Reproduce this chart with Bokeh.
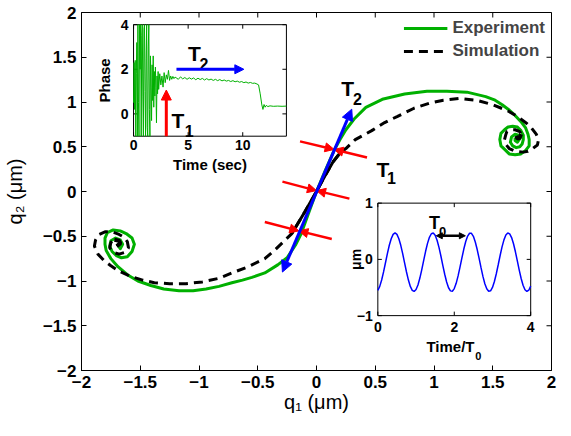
import numpy as np
from bokeh.plotting import figure
from bokeh.models import Range1d, FixedTicker, Arrow, NormalHead, Legend, LegendItem
from bokeh.core.properties import value
from bokeh.embed import file_html
from bokeh.resources import INLINE

# ---------------- data ----------------
# Experiment trajectory (green), lower-left spiral centre -> upper-right spiral centre
exp_q1 = [-1.69, -1.67, -1.65, -1.67, -1.71, -1.75, -1.76, -1.74, -1.70, -1.66, -1.61, -1.57, -1.55,
          -1.57, -1.62, -1.67, -1.73, -1.78, -1.80, -1.80, -1.79, -1.75, -1.69, -1.61, -1.52, -1.41,
          -1.30, -1.17, -1.05, -0.94, -0.83, -0.72, -0.63, -0.55, -0.44, -0.33, -0.25, -0.18, -0.13,
          -0.07, 0.00, 0.07, 0.15, 0.20, 0.25, 0.32, 0.42, 0.56, 0.75, 0.94, 1.11, 1.28, 1.44, 1.52,
          1.58, 1.64, 1.69, 1.74, 1.78, 1.80, 1.81, 1.81, 1.78, 1.74, 1.69, 1.64, 1.61, 1.57, 1.56,
          1.57, 1.60, 1.63, 1.67, 1.71, 1.74, 1.76, 1.76, 1.75, 1.73, 1.70, 1.67, 1.65, 1.66, 1.69,
          1.72, 1.73, 1.71, 1.69, 1.69]
exp_q2 = [-0.60, -0.64, -0.59, -0.54, -0.52, -0.55, -0.61, -0.67, -0.72, -0.74, -0.73, -0.67, -0.59,
          -0.52, -0.47, -0.44, -0.43, -0.46, -0.52, -0.59, -0.66, -0.75, -0.84, -0.93, -1.00, -1.05,
          -1.09, -1.11, -1.11, -1.09, -1.06, -1.02, -0.99, -0.96, -0.91, -0.82, -0.74, -0.60, -0.47,
          -0.25, 0.00, 0.22, 0.46, 0.58, 0.69, 0.81, 0.94, 1.03, 1.09, 1.12, 1.12, 1.11, 1.06, 1.02,
          0.97, 0.91, 0.85, 0.78, 0.71, 0.64, 0.58, 0.51, 0.46, 0.42, 0.41, 0.42, 0.46, 0.51, 0.58,
          0.65, 0.69, 0.72, 0.73, 0.72, 0.68, 0.63, 0.58, 0.53, 0.50, 0.49, 0.51, 0.55, 0.61, 0.64,
          0.63, 0.59, 0.55, 0.57, 0.60]

# Simulation trajectory (black dashed)
sim_q1 = [-1.70, -1.67, -1.68, -1.72, -1.75, -1.76, -1.73, -1.68, -1.63, -1.60, -1.61, -1.64, -1.68,
          -1.74, -1.80, -1.85, -1.88, -1.89, -1.86, -1.81, -1.75, -1.68, -1.58, -1.48, -1.38, -1.25,
          -1.11, -0.97, -0.83, -0.72, -0.58, -0.44, -0.36, -0.28, -0.21, -0.10, 0.00, 0.07, 0.14, 0.20,
          0.25, 0.33, 0.47, 0.58, 0.69, 0.83, 0.97, 1.08, 1.22, 1.36, 1.50, 1.63, 1.72, 1.79, 1.83,
          1.87, 1.89, 1.88, 1.84, 1.80, 1.76, 1.69, 1.64, 1.61, 1.60, 1.61, 1.62, 1.66, 1.69, 1.73,
          1.74, 1.73, 1.71, 1.70]
sim_q2 = [-0.61, -0.58, -0.55, -0.54, -0.57, -0.63, -0.68, -0.70, -0.68, -0.63, -0.56, -0.51, -0.48,
          -0.45, -0.45, -0.48, -0.54, -0.61, -0.70, -0.77, -0.83, -0.89, -0.95, -0.99, -1.02, -1.03,
          -1.03, -1.01, -0.97, -0.91, -0.84, -0.75, -0.66, -0.56, -0.47, -0.23, 0.00, 0.17, 0.33, 0.43,
          0.48, 0.58, 0.68, 0.77, 0.84, 0.93, 0.99, 1.02, 1.04, 1.02, 0.97, 0.90, 0.83, 0.76, 0.71,
          0.64, 0.58, 0.52, 0.48, 0.45, 0.44, 0.45, 0.48, 0.53, 0.58, 0.63, 0.67, 0.69, 0.69, 0.67,
          0.64, 0.60, 0.59, 0.62]

# Inset 1: phase vs time (sec)
phase_t = [0.00, 0.05, 0.10, 0.15, 0.20, 0.25, 0.30, 0.35, 0.40, 0.45, 0.50, 0.55, 0.60, 0.65, 0.70, 0.75,
           0.80, 0.85, 0.90, 0.95, 1.00, 1.05, 1.10, 1.15, 1.20, 1.25, 1.30, 1.35, 1.40, 1.45, 1.50, 1.55,
           1.60, 1.65, 1.70, 1.75, 1.80, 1.85, 1.90, 1.95, 2.00, 2.05, 2.10, 2.15, 2.20, 2.25, 2.30,
           2.40, 2.50, 2.60, 2.70, 2.80, 2.90, 3.00, 3.10, 3.20, 3.30, 3.40, 3.50, 3.60, 3.70, 3.80,
           3.90, 4.10, 4.30, 4.50, 4.70, 4.90, 5.10, 5.30, 5.50, 5.70, 5.90, 6.10, 6.30, 6.50, 6.70, 6.90,
           7.10, 7.30, 7.50, 7.70, 7.90, 8.10, 8.30, 8.50, 8.70, 8.90, 9.10, 9.30, 9.50, 9.70, 9.90, 10.10,
           10.30, 10.50, 10.70, 10.90, 11.10, 11.30, 11.45, 11.60, 11.75, 11.85, 11.95, 12.05, 12.15, 12.30,
           12.50, 12.80, 13.20, 13.60, 14.00]
phase_v = [0.5, 2.3, 0.2, 2.4, -1.0, 1.8, 3.2, -1.0, 4.0, 0.5, -1.0, 4.0, 2.0, 4.0, -1.0, 3.5,
           4.0, 0.8, -1.0, 3.8, 4.0, 1.0, -1.0, 2.5, 4.0, -0.6, -1.0, 3.0, 4.0, 0.2, -1.0, 2.6,
           1.2, -0.3, 2.2, 0.6, 2.6, 0.3, 1.9, 0.8, 2.1, 1.2, -0.4, 1.7, 0.9, 1.9, 1.1,
           1.8, 1.3, 1.7, 1.2, 1.85, 1.4, 1.75, 1.55, 1.95, 1.5, 1.7, 1.55, 1.68, 1.58, 1.65,
           1.62, 1.55, 1.66, 1.57, 1.63, 1.55, 1.62, 1.56, 1.61, 1.53, 1.60, 1.54, 1.59, 1.52, 1.58, 1.52,
           1.56, 1.50, 1.55, 1.49, 1.54, 1.48, 1.52, 1.47, 1.50, 1.45, 1.49, 1.44, 1.47, 1.42, 1.45, 1.40,
           1.43, 1.38, 1.41, 1.37, 1.38, 1.34, 1.30, 0.90, 0.40, 0.20, 0.42, 0.30, 0.38, 0.33,
           0.36, 0.34, 0.35, 0.34, 0.35]

# Inset 2: oscillation (um) vs Time/T0
osc_t = [round(0.05 * i, 2) for i in range(81)]
osc_v = [-0.550, -0.480, -0.367, -0.223, -0.060, 0.103, 0.251, 0.368, 0.444, 0.470, 0.444, 0.368,
         0.250, 0.102, -0.061, -0.224, -0.368, -0.481, -0.550, -0.570, -0.536, -0.455, -0.332, -0.181,
         -0.017, 0.144, 0.285, 0.393, 0.456, 0.468, 0.428, 0.340, 0.213, 0.060, -0.105, -0.264,
         -0.402, -0.504, -0.560, -0.566, -0.519, -0.426, -0.294, -0.138, 0.026, 0.184, 0.317, 0.414,
         0.464, 0.463, 0.410, 0.310, 0.175, 0.017, -0.148, -0.303, -0.432, -0.523, -0.567, -0.559,
         -0.499, -0.394, -0.255, -0.095, 0.069, 0.222, 0.347, 0.432, 0.469, 0.454, 0.388, 0.278,
         0.135, -0.027, -0.190, -0.340, -0.461, -0.540, -0.570, -0.548, -0.475]

main_ticks = [-2, -1.5, -1, -0.5, 0, 0.5, 1, 1.5, 2]
main_tick_labels = ["\u22122", "\u22121.5", "\u22121", "\u22120.5", "0", "0.5", "1", "1.5", "2"]
in1_xlim, in1_ylim = [0, 14], [-1, 4]
in1_xticks, in1_yticks = [0, 5, 10], [0, 2, 4]
in2_xlim, in2_ylim = [0, 4], [-1, 1]
in2_xticks, in2_yticks = [0, 2, 4], [-1, 0, 1]

# annotations (main panel)
blue_start, blue_end = (-0.29, -0.90), (0.30, 0.92)
cross_x0 = [-0.14, -0.29, -0.44]
cross_y0 = [0.56, 0.11, -0.34]
cross_x1 = [0.43, 0.28, 0.13]
cross_y1 = [0.38, -0.08, -0.53]
cross_cx = [0.15, 0.00, -0.15]
cross_cy = [0.47, 0.01, -0.44]
# annotations (inset 1)
t1_arrow = (3.0, -1.0, 3.0, 1.07)
t2_arrow = (3.93, 2.0, 10.1, 2.0)
# annotation (inset 2)
t0_arrow = (1.53, 0.42, 2.29, 0.42)

# ---------------- layout ----------------
FW, FH = 470, 358
IN1_BOX_X, IN1_BOX_Y = (-1.557, -0.256), (0.618, 1.864)
IN2_BOX_X, IN2_BOX_Y = (0.522, 1.823), (-1.387, -0.130)
FONT = "Liberation Sans"
GREEN, BLUE, RED = "#00b000", "#0000ff", "#ff0000"


def inset_range(box, lim):
    k = (lim[1] - lim[0]) / (box[1] - box[0])
    return Range1d(lim[0] + (-2 - box[0]) * k, lim[0] + (2 - box[0]) * k)


p = figure(frame_width=FW, frame_height=FH, x_range=Range1d(-2, 2), y_range=Range1d(-2, 2),
           output_backend="svg", toolbar_location=None,
           min_border_left=78, min_border_right=7, min_border_top=12, min_border_bottom=50,
           background_fill_color="white", border_fill_color="white")
p.xgrid.visible = False
p.ygrid.visible = False
p.outline_line_color = "black"
p.outline_line_width = 1

p.extra_x_ranges = {"i1x": inset_range(IN1_BOX_X, in1_xlim), "i2x": inset_range(IN2_BOX_X, in2_xlim)}
p.extra_y_ranges = {"i1y": inset_range(IN1_BOX_Y, in1_ylim), "i2y": inset_range(IN2_BOX_Y, in2_ylim)}

overrides = {t: l for t, l in zip(main_ticks, main_tick_labels)}
for ax in (p.xaxis[0], p.yaxis[0]):
    ax.ticker = FixedTicker(ticks=main_ticks)
    ax.major_tick_in = 5
    ax.major_tick_out = 0
    ax.minor_tick_line_color = None
    ax.axis_line_color = "black"
    ax.major_tick_line_color = "black"
    ax.major_label_overrides = overrides
    ax.major_label_text_font = FONT
    ax.major_label_text_font_style = "bold"
    ax.major_label_text_font_size = "17px"
    ax.major_label_text_color = "black"
    ax.axis_label_text_font = FONT
    ax.axis_label_text_font_style = "normal"
    ax.axis_label_text_font_size = "20px"
    ax.axis_label_text_color = "black"
p.xaxis[0].axis_label = "q\u2081 (\u03bcm)"
p.yaxis[0].axis_label = "q\u2082 (\u03bcm)"
p.xaxis[0].major_label_standoff = 5
p.xaxis[0].axis_label_standoff = 0
p.yaxis[0].major_label_standoff = 5
p.yaxis[0].axis_label_standoff = 14

# mirrored tick marks on the top and right edges of the box
n = len(main_ticks)
tl_x, tl_y = 5 / (FW / 4.0), 5 / (FH / 4.0)
p.segment(x0=main_ticks, y0=[2] * n, x1=main_ticks, y1=[2 - tl_y] * n, line_color="black", line_width=1)
p.segment(x0=[2] * n, y0=main_ticks, x1=[2 - tl_x] * n, y1=main_ticks, line_color="black", line_width=1)

# ---- main curves ----
g = p.line(exp_q1, exp_q2, line_color=GREEN, line_width=3, line_join="round")
k = p.line(sim_q1, sim_q2, line_color="black", line_width=3, line_dash="9 6")
mid = [i for i, (x, y) in enumerate(zip(sim_q1, sim_q2)) if abs(y) <= 0.5 and abs(x) < 0.25]
p.line([sim_q1[i] for i in mid], [sim_q2[i] for i in mid], line_color="black", line_width=3)
p.line(sim_q1[-4:], sim_q2[-4:], line_color="black", line_width=4)
p.line(sim_q1[:4], sim_q2[:4], line_color="black", line_width=4)

legend = Legend(items=[LegendItem(label="Experiment", renderers=[g]),
                       LegendItem(label="Simulation", renderers=[k])],
                location="top_right", label_text_font=FONT, label_text_font_style="bold",
                label_text_font_size="17px", glyph_width=44, glyph_height=20, label_standoff=5,
                spacing=3, padding=5, margin=6, border_line_color=None, background_fill_alpha=0)
p.add_layout(legend)

# red crosses with inward arrow heads
for x0, y0, x1, y1, cx, cy in zip(cross_x0, cross_y0, cross_x1, cross_y1, cross_cx, cross_cy):
    for xs, ys in ((x0, y0), (x1, y1)):
        p.add_layout(Arrow(end=NormalHead(size=9, fill_color=RED, line_color=RED),
                           x_start=xs, y_start=ys, x_end=cx, y_end=cy,
                           line_color=RED, line_width=2.5))

# blue double arrow
p.add_layout(Arrow(start=NormalHead(size=11, fill_color=BLUE, line_color=BLUE),
                   end=NormalHead(size=11, fill_color=BLUE, line_color=BLUE),
                   x_start=blue_start[0], y_start=blue_start[1], x_end=blue_end[0], y_end=blue_end[1],
                   line_color=BLUE, line_width=3))


def txt(x, y, s, size, rx="default", ry="default", align="left", baseline="alphabetic",
        bold=True, angle=0.0, xo=0, yo=0):
    p.text(x=[x], y=[y], text=[s], text_font=value(FONT), text_font_size=value(f"{size}px"),
           text_font_style="bold" if bold else "normal", text_align=align, text_baseline=baseline,
           angle=angle, x_offset=xo, y_offset=yo, text_color="black",
           x_range_name=rx, y_range_name=ry)


# main T labels
txt(0.21, 1.15, "T", 21)
txt(0.31, 1.03, "2", 16)
txt(0.51, 0.25, "T", 21)
txt(0.60, 0.15, "1", 16)


def inset_frame(rx, ry, xlim, ylim, xticks, yticks, box_x, box_y):
    p.quad(left=[xlim[0]], right=[xlim[1]], bottom=[ylim[0]], top=[ylim[1]],
           fill_color="white", line_color="black", line_width=1, x_range_name=rx, y_range_name=ry)
    px_per_x = (box_x[1] - box_x[0]) * FW / 4.0 / (xlim[1] - xlim[0])
    px_per_y = (box_y[1] - box_y[0]) * FH / 4.0 / (ylim[1] - ylim[0])
    lx, ly = 4 / px_per_x, 4 / px_per_y
    xs0, ys0, xs1, ys1 = [], [], [], []
    for t in xticks:
        xs0 += [t, t]; xs1 += [t, t]
        ys0 += [ylim[0], ylim[1]]; ys1 += [ylim[0] + ly, ylim[1] - ly]
    for v in yticks:
        ys0 += [v, v]; ys1 += [v, v]
        xs0 += [xlim[0], xlim[1]]; xs1 += [xlim[0] + lx, xlim[1] - lx]
    p.segment(x0=xs0, y0=ys0, x1=xs1, y1=ys1, line_color="black", line_width=1,
              x_range_name=rx, y_range_name=ry)


# ---- inset 1 ----
inset_frame("i1x", "i1y", in1_xlim, in1_ylim, in1_xticks, in1_yticks, IN1_BOX_X, IN1_BOX_Y)
p.line(phase_t, phase_v, line_color=GREEN, line_width=1, x_range_name="i1x", y_range_name="i1y")
for t in in1_xticks:
    txt(t, in1_ylim[0], str(t), 14, "i1x", "i1y", align="center", baseline="top", yo=4)
for v in in1_yticks:
    txt(in1_xlim[0], v, str(v), 14, "i1x", "i1y", align="right", baseline="middle", xo=-5)
txt(7, in1_ylim[0], "Time (sec)", 15, "i1x", "i1y", align="center", baseline="top", yo=20)
txt(in1_xlim[0], 1.5, "Phase", 15, "i1x", "i1y", align="center", baseline="middle",
    angle=np.pi / 2, xo=-29)
p.add_layout(Arrow(end=NormalHead(size=10, fill_color=RED, line_color=RED),
                   x_start=t1_arrow[0], y_start=t1_arrow[1], x_end=t1_arrow[2], y_end=t1_arrow[3],
                   line_color=RED, line_width=3, x_range_name="i1x", y_range_name="i1y"))
p.add_layout(Arrow(end=NormalHead(size=9, fill_color=BLUE, line_color=BLUE),
                   x_start=t2_arrow[0], y_start=t2_arrow[1], x_end=t2_arrow[2], y_end=t2_arrow[3],
                   line_color=BLUE, line_width=3, x_range_name="i1x", y_range_name="i1y"))
txt(4.99, 2.72, "T", 21, "i1x", "i1y")
txt(6.03, 2.22, "2", 16, "i1x", "i1y")
txt(3.48, -0.31, "T", 21, "i1x", "i1y")
txt(4.69, -0.78, "1", 16, "i1x", "i1y")

# ---- inset 2 ----
inset_frame("i2x", "i2y", in2_xlim, in2_ylim, in2_xticks, in2_yticks, IN2_BOX_X, IN2_BOX_Y)
p.line(osc_t, osc_v, line_color=BLUE, line_width=1.5, x_range_name="i2x", y_range_name="i2y")
for t in in2_xticks:
    txt(t, in2_ylim[0], str(t), 14, "i2x", "i2y", align="center", baseline="top", yo=6)
for v in in2_yticks:
    txt(in2_xlim[0], v, str(v).replace("-", "\u2212"), 14, "i2x", "i2y", align="right",
        baseline="middle", xo=-5)
txt(2.53, in2_ylim[0], "Time/T", 15, "i2x", "i2y", align="right", baseline="top", yo=22)
txt(2.55, in2_ylim[0], "0", 11, "i2x", "i2y", align="left", baseline="top", yo=36)
txt(in2_xlim[0], 0.0, "\u03bcm", 14, "i2x", "i2y", align="center", baseline="middle",
    angle=np.pi / 2, xo=-22)
p.add_layout(Arrow(start=NormalHead(size=6, fill_color="black", line_color="black"),
                   end=NormalHead(size=6, fill_color="black", line_color="black"),
                   x_start=t0_arrow[0], y_start=t0_arrow[1], x_end=t0_arrow[2], y_end=t0_arrow[3],
                   line_color="black", line_width=2.5, x_range_name="i2x", y_range_name="i2y"))
txt(1.34, 0.64, "T", 18, "i2x", "i2y")
txt(1.60, 0.49, "0", 13, "i2x", "i2y")

open("out.html", "w").write(file_html(p, INLINE))
